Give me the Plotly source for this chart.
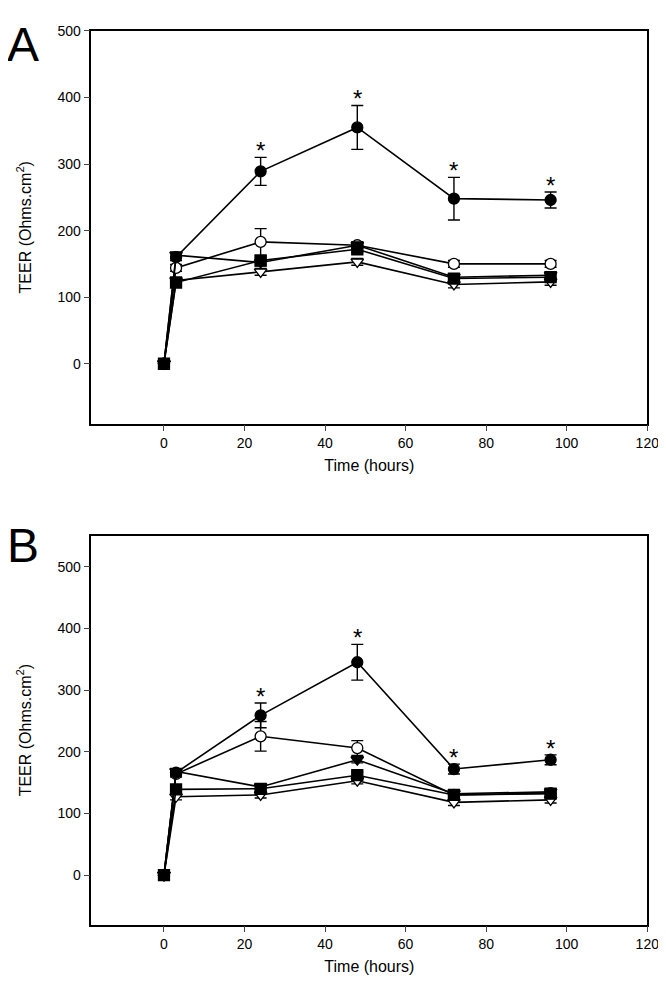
import plotly.graph_objects as go

time_h = [0, 3, 24, 48, 72, 96]

# Panel A
a_filled_circle = [0, 160, 289, 355, 248, 246]
a_filled_circle_err = [0, 5, 21, 33, 32, 12]
a_open_circle = [0, 144, 183, 178, 150, 150]
a_open_circle_err = [0, 5, 20, 5, 5, 5]
a_filled_tri = [0, 163, 152, 178, 130, 133]
a_filled_tri_err = [0, 5, 5, 5, 5, 5]
a_square = [0, 122, 155, 172, 128, 130]
a_square_err = [0, 5, 5, 5, 5, 5]
a_open_tri = [0, 125, 138, 153, 119, 123]
a_open_tri_err = [0, 5, 5, 5, 5, 5]
a_star_times = [24, 48, 72, 96]

# Panel B
b_filled_circle = [0, 166, 259, 345, 172, 187]
b_filled_circle_err = [0, 5, 20, 29, 8, 8]
b_open_circle = [0, 164, 225, 206, 130, 133]
b_open_circle_err = [0, 5, 24, 12, 5, 5]
b_filled_tri = [0, 168, 143, 187, 132, 135]
b_filled_tri_err = [0, 5, 5, 5, 5, 5]
b_square = [0, 139, 140, 162, 130, 132]
b_square_err = [0, 5, 5, 5, 5, 5]
b_open_tri = [0, 127, 130, 153, 118, 122]
b_open_tri_err = [0, 5, 5, 5, 5, 5]
b_star_times = [24, 48, 72, 96]

x_ticks = [0, 20, 40, 60, 80, 100, 120]
y_ticks = [0, 100, 200, 300, 400, 500]

W, H = 666, 984
FAM = "Liberation Sans, Arial, sans-serif"
fig = go.Figure()
annotations = []

# drawing order: open triangle, open circle, filled circle, filled triangle, square
def add_panel(xa, ya, fc, oc, ft, sq, ot, star_times):
    order = [
        (ot, "triangle-down", "white"),
        (oc, "circle", "white"),
        (fc, "circle", "black"),
        (ft, "triangle-down", "black"),
        (sq, "square", "black"),
    ]
    for (vals, errs), sym, fill in order:
        fig.add_trace(go.Scatter(
            x=time_h, y=vals, mode="lines+markers",
            xaxis=xa, yaxis=ya, showlegend=False,
            line=dict(color="black", width=1.6),
            marker=dict(symbol=sym, size=11, color=fill,
                        line=dict(color="black", width=1.3)),
            error_y=dict(type="data", array=errs, color="black",
                         thickness=1.4, width=6),
        ))
    vals, errs = fc
    for t, v, e in zip(time_h, vals, errs):
        if t in star_times:
            annotations.append(dict(
                x=t, y=v + e, xref=xa, yref=ya, text="*", showarrow=False,
                xanchor="center", yanchor="bottom", yshift=-9,
                font=dict(size=24, color="black", family=FAM)))

add_panel("x", "y",
          (a_filled_circle, a_filled_circle_err),
          (a_open_circle, a_open_circle_err),
          (a_filled_tri, a_filled_tri_err),
          (a_square, a_square_err),
          (a_open_tri, a_open_tri_err),
          a_star_times)

add_panel("x2", "y2",
          (b_filled_circle, b_filled_circle_err),
          (b_open_circle, b_open_circle_err),
          (b_filled_tri, b_filled_tri_err),
          (b_square, b_square_err),
          (b_open_tri, b_open_tri_err),
          b_star_times)

xdom = [85 / W, 651 / W]
ydomA = [1 - 411 / H, 1 - 15 / H]
ydomB = [1 - 916 / H, 1 - 524 / H]

def xaxis_cfg(anchor):
    return dict(domain=xdom, range=[-18, 120], anchor=anchor,
                tickvals=x_ticks, ticks="outside", ticklen=6, tickwidth=1.3,
                showline=True, linewidth=1.6, linecolor="black", mirror=True,
                showgrid=False, zeroline=False,
                title=dict(text="Time (hours)", font=dict(size=16), standoff=10),
                tickfont=dict(size=14))

def yaxis_cfg(anchor, dom, rng):
    return dict(domain=dom, range=rng, anchor=anchor,
                tickvals=y_ticks, ticks="outside", ticklen=6, tickwidth=1.3,
                showline=True, linewidth=1.6, linecolor="black", mirror=True,
                showgrid=False, zeroline=False,
                title=dict(text="TEER (Ohms.cm<sup>2</sup>)", font=dict(size=16), standoff=22),
                tickfont=dict(size=14))

annotations += [
    dict(text="A", x=-0.005, y=1.0, xref="paper", yref="paper",
         xanchor="left", yanchor="top", showarrow=False,
         font=dict(size=48, family=FAM, color="black")),
    dict(text="B", x=-0.005, y=1 - 505 / H, xref="paper", yref="paper",
         xanchor="left", yanchor="top", showarrow=False,
         font=dict(size=48, family=FAM, color="black")),
]

fig.update_layout(
    width=W, height=H,
    margin=dict(l=0, r=0, t=0, b=0),
    paper_bgcolor="white", plot_bgcolor="white",
    font=dict(family=FAM, size=14, color="black"),
    xaxis=xaxis_cfg("y"),
    yaxis=yaxis_cfg("x", ydomA, [-90, 500]),
    xaxis2=xaxis_cfg("y2"),
    yaxis2=yaxis_cfg("x2", ydomB, [-80, 550]),
    annotations=annotations,
)

fig.write_html("out.html")
